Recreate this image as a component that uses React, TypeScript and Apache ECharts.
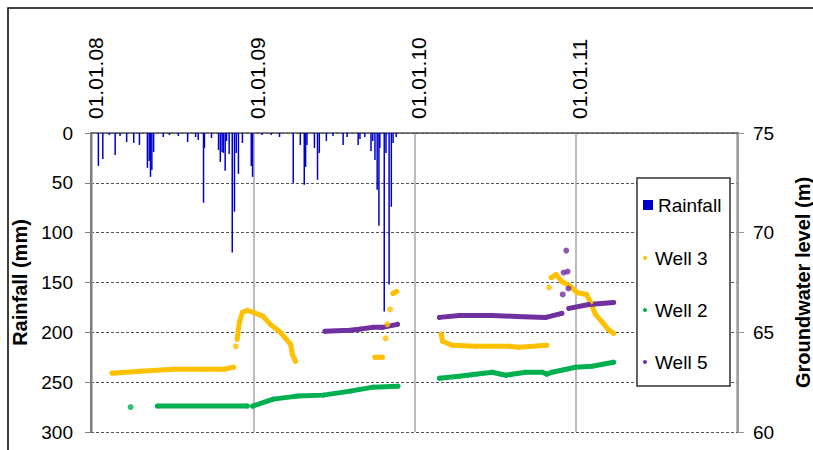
import React, { useEffect, useRef } from 'react';
import * as echarts from 'echarts';

const FONT = "'Liberation Sans', Arial, sans-serif";

// Daily rainfall (mm) — left axis, inverted
const rainfall: [string, number][] = [
  ['2008-01-16', 33], ['2008-01-26', 26], ['2008-02-10', 2], ['2008-02-23', 22], ['2008-03-05', 3],
  ['2008-03-20', 9], ['2008-04-05', 10], ['2008-04-18', 12], ['2008-05-06', 35], ['2008-05-10', 28],
  ['2008-05-13', 44], ['2008-05-16', 37], ['2008-05-20', 19], ['2008-06-11', 4], ['2008-06-25', 2],
  ['2008-07-15', 3], ['2008-08-05', 9], ['2008-08-23', 4], ['2008-08-29', 7], ['2008-09-10', 70],
  ['2008-09-12', 15], ['2008-09-28', 5], ['2008-10-14', 17], ['2008-10-18', 29], ['2008-10-22', 19],
  ['2008-10-25', 20], ['2008-10-29', 38], ['2008-11-01', 8], ['2008-11-07', 21], ['2008-11-14', 120],
  ['2008-11-19', 79], ['2008-11-23', 20], ['2008-11-28', 41], ['2008-12-07', 10], ['2008-12-27', 33],
  ['2008-12-30', 44], ['2009-01-20', 2], ['2009-02-10', 2], ['2009-03-01', 4], ['2009-04-01', 50],
  ['2009-04-17', 12], ['2009-04-26', 52], ['2009-04-29', 34], ['2009-05-02', 12], ['2009-05-19', 15],
  ['2009-05-26', 47], ['2009-05-30', 20], ['2009-06-15', 8], ['2009-06-30', 3], ['2009-07-23', 12],
  ['2009-08-01', 4], ['2009-08-26', 12], ['2009-08-30', 6], ['2009-09-10', 4], ['2009-09-24', 18],
  ['2009-09-28', 8], ['2009-10-03', 27], ['2009-10-08', 57], ['2009-10-12', 93], ['2009-10-14', 15],
  ['2009-10-24', 179], ['2009-10-28', 20], ['2009-11-04', 152], ['2009-11-09', 74], ['2009-11-13', 10],
  ['2009-11-20', 4],
];

// Groundwater levels (m) — right axis
const well3SegA: [string, number][] = [
  ['2008-02-16', 62.95], ['2008-04-20', 63.05], ['2008-07-04', 63.15], ['2008-09-03', 63.15],
  ['2008-10-26', 63.15], ['2008-11-17', 63.25],
];
const well3SegB: [string, number][] = [
  ['2008-11-25', 64.65], ['2008-11-30', 65.5], ['2008-12-07', 66.0], ['2008-12-18', 66.1],
  ['2009-01-01', 66.0], ['2009-01-23', 65.8], ['2009-02-08', 65.4], ['2009-03-03', 65.0],
  ['2009-03-26', 64.4], ['2009-03-30', 63.9], ['2009-04-06', 63.55],
];
const well3SegC: [string, number][] = [['2009-10-03', 63.75], ['2009-10-20', 63.75]];
const well3SegD: [string, number][] = [['2009-11-13', 66.95], ['2009-11-21', 67.05]];
const well3SegE: [string, number][] = [
  ['2010-03-02', 64.9], ['2010-03-05', 64.55], ['2010-03-27', 64.35], ['2010-05-20', 64.3],
  ['2010-08-02', 64.3], ['2010-08-25', 64.25], ['2010-10-27', 64.35],
];
const well3SegF: [string, number][] = [
  ['2010-11-06', 67.75], ['2010-11-17', 67.9], ['2010-11-30', 67.55], ['2010-12-20', 67.3],
  ['2011-01-03', 67.0], ['2011-01-25', 66.9], ['2011-02-03', 66.5], ['2011-02-14', 65.9],
  ['2011-02-28', 65.55], ['2011-03-15', 65.15], ['2011-03-27', 64.95],
];
const well3Dots: [string, number][] = [
  ['2008-11-22', 64.3], ['2009-10-27', 64.7], ['2009-10-31', 65.4], ['2009-11-06', 66.15],
  ['2010-11-01', 67.25],
];

const well2SegA: [string, number][] = [['2008-05-29', 61.3], ['2008-12-18', 61.3]];
const well2SegB: [string, number][] = [
  ['2008-12-30', 61.3], ['2009-02-15', 61.65], ['2009-04-10', 61.8], ['2009-06-08', 61.85],
  ['2009-08-08', 62.05], ['2009-09-29', 62.25], ['2009-11-24', 62.3],
];
const well2SegC: [string, number][] = [
  ['2010-02-26', 62.7], ['2010-04-12', 62.8], ['2010-06-25', 63.0], ['2010-07-26', 62.85],
  ['2010-09-09', 63.0], ['2010-10-17', 63.0], ['2010-10-27', 62.9], ['2010-11-08', 63.0],
  ['2010-12-31', 63.25], ['2011-02-06', 63.3], ['2011-03-27', 63.5],
];
const well2Dots: [string, number][] = [['2008-03-29', 61.25]];

const well5SegA: [string, number][] = [
  ['2009-06-12', 65.05], ['2009-08-07', 65.1], ['2009-08-28', 65.15], ['2009-09-28', 65.25],
  ['2009-10-20', 65.25], ['2009-11-23', 65.4],
];
const well5SegB: [string, number][] = [
  ['2010-02-26', 65.75], ['2010-04-12', 65.85], ['2010-06-25', 65.85], ['2010-08-18', 65.8],
  ['2010-10-25', 65.75], ['2010-11-30', 65.95],
];
const well5SegC: [string, number][] = [
  ['2010-12-16', 66.2], ['2011-01-30', 66.4], ['2011-03-27', 66.5],
];
const well5Dots: [string, number][] = [
  ['2010-12-02', 66.9], ['2010-12-04', 68.0], ['2010-12-10', 69.1], ['2010-12-13', 68.05],
  ['2010-12-15', 67.2],
];

const C_RAIN = '#0000CC';
const C_W3 = '#FFC000';
const C_W2 = '#00B050';
const C_W5 = '#7030A0';

const legendRain = ['Rainfall'];
const legendWells = ['Well 3', 'Well 2', 'Well 5'];

function lineSeries(name: string, color: string, data: [string, number][]) {
  return {
    type: 'line',
    name,
    xAxisIndex: 0,
    yAxisIndex: 1,
    data,
    symbol: 'circle',
    symbolSize: 5,
    showSymbol: true,
    itemStyle: { color, borderWidth: 0 },
    lineStyle: { color, width: 5, cap: 'round', join: 'round' },
    z: 3,
  };
}
function dotSeries(name: string, color: string, data: [string, number][]) {
  return {
    type: 'scatter',
    name,
    xAxisIndex: 0,
    yAxisIndex: 1,
    data,
    symbol: 'circle',
    symbolSize: 6,
    itemStyle: { color },
    z: 3,
  };
}

export default function App() {
  const ref = useRef<HTMLDivElement>(null);
  useEffect(() => {
    const chart = echarts.init(ref.current!, null, { renderer: 'svg' });
    const option: any = {
      animation: false,
      backgroundColor: '#ffffff',
      textStyle: { fontFamily: FONT },
      grid: { left: 91, right: 75, top: 133, bottom: 18, containLabel: false, outerBoundsMode: 'none' },
      xAxis: [
        {
          type: 'time',
          position: 'top',
          min: '2008-01-01',
          max: '2012-01-01',
          splitNumber: 4,
          minInterval: 365 * 24 * 3600 * 1000,
          axisLine: { show: true, lineStyle: { color: '#555', width: 1.5 } },
          axisTick: { show: false },
          axisLabel: {
            rotate: 90,
            margin: 14,
            fontSize: 21,
            color: '#000',
            fontFamily: FONT,
            padding: [8, 0, 0, 0],
            showMaxLabel: false,
            formatter: (v: number) => {
              const d = new Date(v);
              if (d.getFullYear() >= 2012) return '';
              const dd = String(d.getDate()).padStart(2, '0');
              const mm = String(d.getMonth() + 1).padStart(2, '0');
              const yy = String(d.getFullYear() % 100).padStart(2, '0');
              return `${dd}.${mm}.${yy}`;
            },
          },
          splitLine: { show: true, lineStyle: { color: '#a6a6a6', width: 1.5, type: 'solid' } },
        },
      ],
      yAxis: [
        {
          type: 'value',
          inverse: true,
          min: 0,
          max: 300,
          interval: 50,
          name: 'Rainfall (mm)',
          nameLocation: 'middle',
          nameRotate: 90,
          nameGap: 50,
          nameTextStyle: { fontSize: 20, fontWeight: 'bold', color: '#000', fontFamily: FONT },
          axisLine: { show: true, lineStyle: { color: '#808080', width: 2 } },
          axisTick: { show: true, length: 6, lineStyle: { color: '#808080' } },
          axisLabel: { fontSize: 19, color: '#000', margin: 18, fontFamily: FONT },
          splitLine: { show: true, lineStyle: { color: '#555', width: 1.2, type: [3, 2] } },
        },
        {
          type: 'value',
          min: 60,
          max: 75,
          interval: 5,
          position: 'right',
          name: 'Groundwater level (m)',
          nameLocation: 'middle',
          nameRotate: 90,
          nameGap: 55,
          nameTextStyle: { fontSize: 20, fontWeight: 'bold', color: '#000', fontFamily: FONT },
          axisLine: { show: true, lineStyle: { color: '#999', width: 1.5 } },
          axisTick: { show: true, length: 6, lineStyle: { color: '#999' } },
          axisLabel: { fontSize: 19, color: '#000', margin: 15, fontFamily: FONT },
          splitLine: { show: false },
        },
      ],
      legend: [
        {
          data: legendRain.map((n) => ({ name: n, icon: 'rect' })),
          orient: 'vertical',
          left: 643,
          top: 195,
          padding: 0,
          itemWidth: 10,
          itemHeight: 10,
          itemStyle: { borderWidth: 0 },
          textStyle: { fontSize: 19, color: '#000', fontFamily: FONT, lineHeight: 20 },
          selectedMode: false,
          z: 6,
        },
        {
          data: legendWells.map((n) => ({ name: n, icon: 'circle' })),
          orient: 'vertical',
          left: 643,
          top: 248,
          padding: 0,
          itemGap: 32,
          itemWidth: 10,
          itemHeight: 4,
          itemStyle: { borderWidth: 0 },
          lineStyle: { width: 0 },
          textStyle: { fontSize: 19, color: '#000', fontFamily: FONT, lineHeight: 20 },
          selectedMode: false,
          z: 6,
        },
      ],
      graphic: [
        {
          type: 'rect',
          z: 5,
          shape: { x: 637, y: 178, width: 93, height: 208 },
          style: { fill: '#ffffff', stroke: '#333', lineWidth: 1.5 },
        },
        {
          type: 'rect',
          z: 10,
          shape: { x: 8, y: 8, width: 900, height: 600 },
          style: { fill: 'none', stroke: '#000', lineWidth: 1.5 },
        },
      ],
      series: [
        {
          type: 'bar',
          name: 'Rainfall',
          xAxisIndex: 0,
          yAxisIndex: 0,
          data: rainfall,
          barWidth: 1.5,
          itemStyle: { color: C_RAIN },
          z: 2,
        },
        lineSeries('Well 3', C_W3, well3SegA),
        lineSeries('Well 3', C_W3, well3SegB),
        lineSeries('Well 3', C_W3, well3SegC),
        lineSeries('Well 3', C_W3, well3SegD),
        lineSeries('Well 3', C_W3, well3SegE),
        lineSeries('Well 3', C_W3, well3SegF),
        dotSeries('Well 3', C_W3, well3Dots),
        lineSeries('Well 2', C_W2, well2SegA),
        lineSeries('Well 2', C_W2, well2SegB),
        lineSeries('Well 2', C_W2, well2SegC),
        dotSeries('Well 2', C_W2, well2Dots),
        lineSeries('Well 5', C_W5, well5SegA),
        lineSeries('Well 5', C_W5, well5SegB),
        lineSeries('Well 5', C_W5, well5SegC),
        dotSeries('Well 5', C_W5, well5Dots),
      ],
    };
    chart.setOption(option);
    return () => chart.dispose();
  }, []);
  return (
    <div
      ref={ref}
      style={{ position: 'fixed', left: 0, top: 0, width: 813, height: 450, background: '#fff' }}
    />
  );
}
